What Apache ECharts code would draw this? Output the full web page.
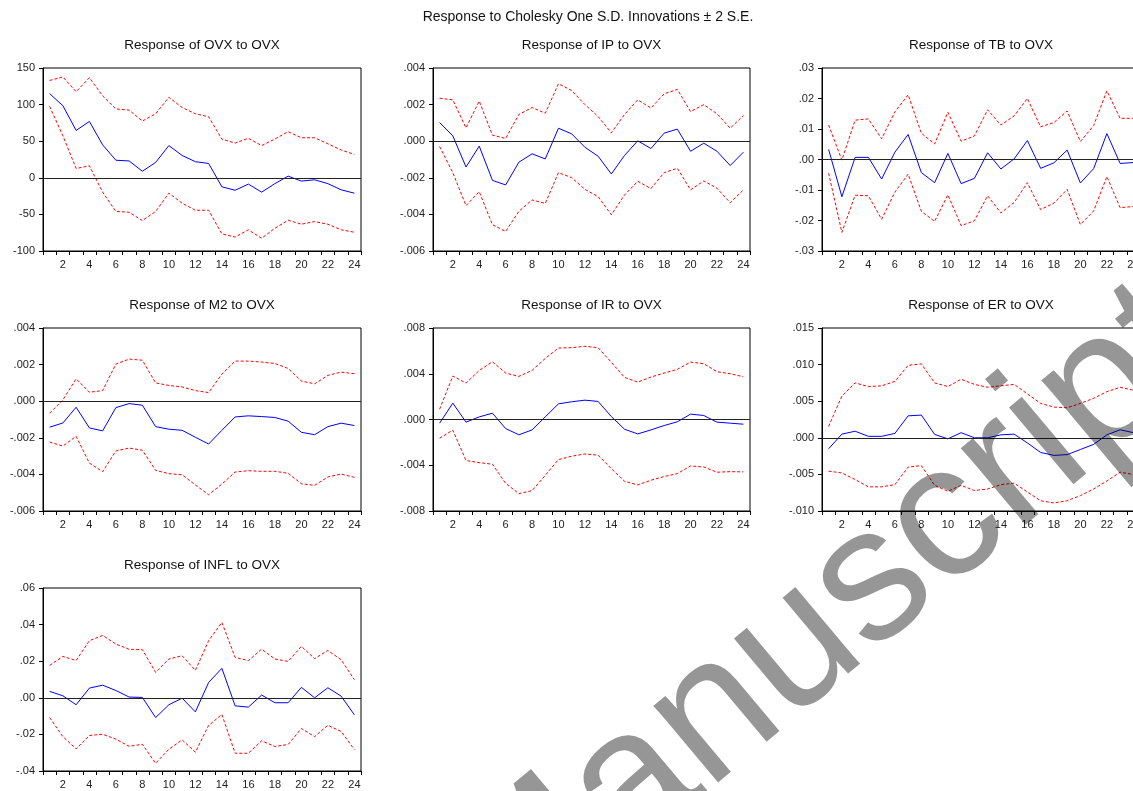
<!DOCTYPE html>
<html>
<head>
<meta charset="utf-8">
<script src="https://cdn.jsdelivr.net/npm/echarts@6/dist/echarts.min.js"></script>
<style>
html,body{margin:0;padding:0;background:#fff;}
#chart{width:1133px;height:791px;}
</style>
</head>
<body>
<div id="chart"></div>
<script>
// ---------- DATA ----------
const periods = ['1','2','3','4','5','6','7','8','9','10','11','12','13','14','15','16','17','18','19','20','21','22','23','24'];

const mainTitle = 'Response to Cholesky One S.D. Innovations \u00b1 2 S.E.';
const panelTitles = ['Response of OVX to OVX','Response of IP to OVX','Response of TB to OVX','Response of M2 to OVX','Response of IR to OVX','Response of ER to OVX','Response of INFL to OVX'];

// OVX
const ovxResp  = [115,98.5,64.7,77,45,24,23,9,21,44,30.5,22,19.6,-12.3,-17,-8.6,-19.6,-8,2.3,-4.5,-2.7,-8,-16.4,-21];
const ovxUpper = [133,137.7,117.6,136.8,112,94,92.5,77.5,87.5,110,96,87.5,83.4,52.9,47.4,54,44,53,63,54.7,54.7,46.5,38,32];
const ovxLower = [97.6,57.4,12.7,16.4,-19.6,-46,-47,-58.4,-46,-21,-34.7,-44.3,-44.3,-76.6,-81,-71,-82.6,-69,-58,-63.4,-59.8,-63.4,-71,-74.4];
// IP
const ipResp  = [0.00102,0.00029,-0.00141,-0.00027,-0.00214,-0.00239,-0.00115,-0.00069,-0.00097,0.00071,0.0004,-0.00033,-0.00082,-0.00179,-0.00078,0.00002,-0.0004,0.00044,0.00066,-0.00055,-0.00011,-0.00055,-0.00133,-0.0006];
const ipUpper = [0.00235,0.00226,0.00073,0.00219,0.00033,0.00015,0.00146,0.00184,0.00153,0.00314,0.00277,0.002,0.00135,0.00046,0.00146,0.00226,0.00181,0.00259,0.00283,0.00162,0.002,0.0015,0.00071,0.0014];
const ipLower = [-0.00029,-0.00172,-0.00352,-0.00276,-0.00456,-0.00493,-0.00383,-0.00321,-0.0034,-0.00172,-0.00199,-0.00263,-0.00303,-0.00402,-0.00294,-0.00219,-0.00259,-0.00172,-0.00148,-0.00266,-0.00217,-0.00257,-0.00336,-0.00266];
// TB
const tbResp  = [0.0033,-0.0122,0.0007,0.0007,-0.0064,0.0024,0.0082,-0.0043,-0.0076,0.002,-0.0079,-0.0062,0.0022,-0.0031,0.0002,0.0062,-0.0029,-0.0011,0.0031,-0.0077,-0.003,0.0085,-0.0013,-0.001];
const tbUpper = [0.0113,-0.0002,0.0129,0.0133,0.0068,0.0156,0.0212,0.0086,0.0051,0.0155,0.006,0.0077,0.0163,0.0113,0.0143,0.02,0.0107,0.0121,0.0159,0.0059,0.0111,0.0225,0.0135,0.0135];
const tbLower = [-0.0045,-0.0239,-0.0117,-0.0119,-0.0196,-0.0107,-0.0048,-0.017,-0.0203,-0.0116,-0.0217,-0.0201,-0.0119,-0.0175,-0.0141,-0.0076,-0.0164,-0.0143,-0.0098,-0.0213,-0.0169,-0.0056,-0.0158,-0.0154];
// M2
const m2Resp  = [-0.00142,-0.00119,-0.00033,-0.00146,-0.00162,-0.00035,-0.00013,-0.00022,-0.00139,-0.00153,-0.00159,-0.00197,-0.00234,-0.00159,-0.00086,-0.0008,-0.00084,-0.00089,-0.00109,-0.0017,-0.00183,-0.00139,-0.0012,-0.00133];
const m2Upper = [-0.00066,0.00007,0.00122,0.00049,0.00058,0.00203,0.0023,0.00224,0.001,0.00086,0.00078,0.00058,0.00047,0.00148,0.00219,0.00219,0.00214,0.00206,0.00179,0.0011,0.00095,0.00141,0.00159,0.0015];
const m2Lower = [-0.00223,-0.00245,-0.00192,-0.00338,-0.00385,-0.00272,-0.00256,-0.00268,-0.00378,-0.00396,-0.00402,-0.00458,-0.00511,-0.00453,-0.00387,-0.0038,-0.00383,-0.00383,-0.00394,-0.00451,-0.0046,-0.00414,-0.00398,-0.00416];
// IR
const irResp  = [-0.00032,0.00143,-0.00023,0.00023,0.00055,-0.00079,-0.00134,-0.00091,0.00023,0.00137,0.00155,0.00169,0.00158,0.00026,-0.00085,-0.00126,-0.00091,-0.00053,-0.0002,0.00047,0.00035,-0.00023,-0.00032,-0.00041];
const irUpper = [0.0009,0.0038,0.00318,0.00429,0.00505,0.00406,0.00377,0.00429,0.00534,0.00625,0.00628,0.0064,0.00628,0.005,0.00368,0.00327,0.00371,0.00406,0.00438,0.00502,0.00488,0.00418,0.004,0.00374];
const irLower = [-0.00164,-0.00093,-0.00359,-0.00377,-0.00391,-0.00558,-0.00648,-0.00622,-0.00488,-0.0035,-0.00321,-0.00301,-0.00312,-0.00429,-0.0054,-0.00572,-0.00531,-0.00499,-0.00473,-0.00406,-0.00415,-0.00461,-0.00456,-0.00458];
// ER
const erResp  = [-0.0015,0.0005,0.0009,0.0002,0.0002,0.0006,0.003,0.0031,0.00046,-0.00014,0.0007,0,0,0.0004,0.0005,-0.0007,-0.002,-0.0024,-0.0023,-0.0016,-0.0009,0.0004,0.0011,0.0007];
const erUpper = [0.00155,0.0057,0.0075,0.007,0.0071,0.0077,0.0099,0.0101,0.0075,0.007,0.008,0.0073,0.0069,0.0071,0.0073,0.006,0.0047,0.0042,0.0041,0.0047,0.0054,0.0063,0.0069,0.0065];
const erLower = [-0.00456,-0.0048,-0.0057,-0.0067,-0.0067,-0.0064,-0.004,-0.0038,-0.0065,-0.0073,-0.0065,-0.0072,-0.007,-0.0064,-0.0062,-0.0074,-0.0086,-0.0089,-0.0086,-0.0079,-0.007,-0.0059,-0.0047,-0.005];
// INFL
const inflResp  = [0.0035,0.0011,-0.0038,0.0053,0.0069,0.004,0.0004,0.0002,-0.0108,-0.0038,-0.0002,-0.0077,0.0084,0.0161,-0.0044,-0.0051,0.0015,-0.0027,-0.0027,0.0057,0,0.0055,0.0009,-0.0093];
const inflUpper = [0.0177,0.0226,0.0204,0.0312,0.0341,0.0294,0.0265,0.0263,0.0139,0.0212,0.023,0.015,0.0312,0.0412,0.0221,0.0203,0.0266,0.0212,0.0199,0.0281,0.0214,0.0259,0.0208,0.0099];
const inflLower = [-0.0108,-0.0212,-0.0279,-0.0206,-0.0199,-0.0226,-0.0265,-0.0254,-0.0358,-0.0281,-0.023,-0.0297,-0.0151,-0.0091,-0.0303,-0.0303,-0.0235,-0.0266,-0.0255,-0.0168,-0.0212,-0.015,-0.0184,-0.0283];

// axis ranges: [min, max, interval, decimals]
const axisOVX  = [-100, 150, 50, 0];
const axisIP   = [-0.006, 0.004, 0.002, 3];
const axisTB   = [-0.03, 0.03, 0.01, 2];
const axisM2   = [-0.006, 0.004, 0.002, 3];
const axisIR   = [-0.008, 0.008, 0.004, 3];
const axisER   = [-0.010, 0.015, 0.005, 3];
const axisINFL = [-0.04, 0.06, 0.02, 2];

const watermarkText = 'Manuscript';

// ---------- BUILD ----------
const panels = [
  [ovxResp, ovxUpper, ovxLower, axisOVX],
  [ipResp, ipUpper, ipLower, axisIP],
  [tbResp, tbUpper, tbLower, axisTB],
  [m2Resp, m2Upper, m2Lower, axisM2],
  [irResp, irUpper, irLower, axisIR],
  [erResp, erUpper, erLower, axisER],
  [inflResp, inflUpper, inflLower, axisINFL]
];

const colLeft = [43, 433, 822];
const colWidth = [318, 317, 318];
const rowTop = [68, 328, 588];
const plotH = 183;

function fmt(dec) {
  return function (v) {
    if (dec === 0) return String(Math.round(v));
    let s = Math.abs(v).toFixed(dec).replace(/^0/, '');
    if (v < -1e-12 && parseFloat(Math.abs(v).toFixed(dec)) !== 0) s = '-' + s;
    return s;
  };
}

const FONT = 'Liberation Sans, Arial, sans-serif';
const grids = [], xAxes = [], yAxes = [], series = [], titles = [];

titles.push({
  text: mainTitle, left: 588, top: 10, textAlign: 'center', padding: 0,
  textStyle: {fontFamily: FONT, fontSize: 14, fontWeight: 'normal', color: '#111'}
});

panels.forEach((p, i) => {
  const r = Math.floor(i / 3), c = i % 3;
  const [resp, up, lo, ax] = p;
  grids.push({
    left: colLeft[c], top: rowTop[r], width: colWidth[c], height: plotH,
    show: true, borderColor: '#000', borderWidth: 1, backgroundColor: 'transparent',
    containLabel: false, outerBoundsMode: 'none'
  });
  titles.push({
    text: panelTitles[i], left: colLeft[c] + colWidth[c] / 2, top: rowTop[r] - 30,
    textAlign: 'center', padding: 0,
    textStyle: {fontFamily: FONT, fontSize: 13.5, fontWeight: 'normal', color: '#111'}
  });
  xAxes.push({
    type: 'category', gridIndex: i, data: periods, boundaryGap: true,
    axisLine: {show: true, onZero: false, lineStyle: {color: '#000', width: 1}},
    axisTick: {show: true, interval: 0, length: 4, inside: false, lineStyle: {color: '#000'}},
    axisLabel: {
      interval: function (idx) { return idx % 2 === 1; },
      margin: 8, fontSize: 11, fontFamily: FONT, color: '#222'
    },
    splitLine: {show: false}
  });
  yAxes.push({
    type: 'value', gridIndex: i, min: ax[0], max: ax[1], interval: ax[2],
    axisLine: {show: true, onZero: false, lineStyle: {color: '#000', width: 1}},
    axisTick: {show: true, length: 4, inside: false, lineStyle: {color: '#000'}},
    axisLabel: {formatter: fmt(ax[3]), margin: 8, fontSize: 11, fontFamily: FONT, color: '#222'},
    splitLine: {show: false}
  });
  series.push({
    type: 'line', xAxisIndex: i, yAxisIndex: i, data: up, symbol: 'none',
    lineStyle: {color: '#ff0000', width: 1, type: [3, 2]}, z: 3
  });
  series.push({
    type: 'line', xAxisIndex: i, yAxisIndex: i, data: lo, symbol: 'none',
    lineStyle: {color: '#ff0000', width: 1, type: [3, 2]}, z: 3
  });
  series.push({
    type: 'line', xAxisIndex: i, yAxisIndex: i, data: resp, symbol: 'none',
    lineStyle: {color: '#0000ff', width: 1}, z: 4,
    markLine: {
      silent: true, symbol: 'none', label: {show: false},
      lineStyle: {color: '#222', type: 'solid', width: 1},
      data: [{yAxis: 0}]
    }
  });
});

const chart = echarts.init(document.getElementById('chart'), null, {renderer: 'canvas'});
chart.setOption({
  animation: false,
  backgroundColor: '#fff',
  title: titles,
  grid: grids,
  xAxis: xAxes,
  yAxis: yAxes,
  series: series,
  graphic: [{
    type: 'text', z: 100, x: 828, y: 622, rotation: 40 * Math.PI / 180,
    silent: true,
    style: {
      text: watermarkText, fill: 'rgba(0,0,0,0.41)',
      font: '190px Liberation Sans, Arial, sans-serif',
      align: 'center', verticalAlign: 'middle',
      textAlign: 'center', textVerticalAlign: 'middle'
    }
  }]
});
</script>
</body>
</html>
